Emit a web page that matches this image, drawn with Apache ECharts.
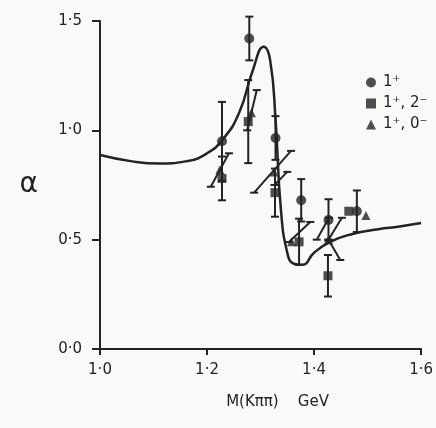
<!DOCTYPE html>
<html>
<head>
<meta charset="utf-8">
<script src="https://cdn.jsdelivr.net/npm/echarts@6/dist/echarts.min.js"></script>
<style>
  html, body { margin: 0; padding: 0; background: #f9f9f8; }
  #chart { width: 436px; height: 428px; }
</style>
</head>
<body>
<div id="chart"></div>
<script>
// theory curve
const curveMass = [1.0, 1.06, 1.11, 1.16, 1.2, 1.23, 1.26, 1.285, 1.306, 1.318, 1.328, 1.338, 1.35, 1.362, 1.378, 1.4, 1.43, 1.47, 1.52, 1.56, 1.6]
const curveAlpha = [0.887, 0.858, 0.848, 0.858, 0.895, 0.96, 1.08, 1.27, 1.382, 1.32, 1.05, 0.64, 0.44, 0.39, 0.385, 0.44, 0.49, 0.525, 0.548, 0.56, 0.576]

// 1+
const circleMass = [1.228, 1.279, 1.328, 1.376, 1.427, 1.48]
const circleAlpha = [0.95, 1.42, 0.965, 0.68, 0.59, 0.63]
const circleErr = [0.18, 0.1, 0.1, 0.097, 0.095, 0.095]

// 1+, 2-
const squareMass = [1.228, 1.277, 1.327, 1.372, 1.426, 1.465]
const squareAlpha = [0.78, 1.04, 0.715, 0.49, 0.335, 0.63]
const squareErr = [0.1, 0.19, 0.11, 0.106, 0.095, 0]

// 1+, 0-
const triangleMass = [1.224, 1.283, 1.325, 1.358, 1.427, 1.497]
const triangleAlpha = [0.82, 1.08, 0.81, 0.49, 0.5, 0.61]

// slanted error bars: low end -> high end
const slantLowMass = [1.207, 1.275, 1.288, 1.353, 1.405, 1.427, 1.449, 1.326]
const slantLowAlpha = [0.742, 1.0, 0.715, 0.489, 0.5, 0.5, 0.407, 0.75]
const slantHighMass = [1.241, 1.293, 1.357, 1.393, 1.428, 1.452, 1.427, 1.35]
const slantHighAlpha = [0.895, 1.184, 0.906, 0.581, 0.6, 0.6, 0.5, 0.81]

const xTicks = [1.0, 1.2, 1.4, 1.6]
const yTicks = [0.0, 0.5, 1.0, 1.5]

const ink = '#232323'
const font = 'DejaVu Sans'

function toPoints(xs, ys) {
  return xs.map((x, i) => [x, ys[i]])
}

function toErrors(xs, ys, errs) {
  return xs.map((x, i) => [x, ys[i] - errs[i], ys[i] + errs[i]])
}

function toSlants() {
  return slantLowMass.map((x, i) => [x, slantLowAlpha[i], slantHighMass[i], slantHighAlpha[i]])
}

function capLine(x, y, w) {
  return { type: 'line', shape: { x1: x - w, y1: y, x2: x + w, y2: y }, style: { stroke: ink, lineWidth: 2 } }
}

function renderVertical(params, api) {
  if (api.value(2) - api.value(1) <= 0) return null
  const lo = api.coord([api.value(0), api.value(1)])
  const hi = api.coord([api.value(0), api.value(2)])
  return {
    type: 'group',
    children: [
      { type: 'line', shape: { x1: lo[0], y1: lo[1], x2: hi[0], y2: hi[1] }, style: { stroke: ink, lineWidth: 2 } },
      capLine(lo[0], lo[1], 4),
      capLine(hi[0], hi[1], 4),
    ],
  }
}

function renderSlant(params, api) {
  const lo = api.coord([api.value(0), api.value(1)])
  const hi = api.coord([api.value(2), api.value(3)])
  return {
    type: 'group',
    children: [
      { type: 'line', shape: { x1: lo[0], y1: lo[1], x2: hi[0], y2: hi[1] }, style: { stroke: ink, lineWidth: 2 } },
      capLine(lo[0], lo[1], 4),
      capLine(hi[0], hi[1], 4),
    ],
  }
}

const fmt = (v) => v.toFixed(1).replace('.', '\u00b7')

const chart = echarts.init(document.getElementById('chart'))

chart.setOption({
  backgroundColor: '#f9f9f8',
  animation: false,
  grid: { left: 100, right: 13, top: 21, bottom: 79 },
  legend: {
    orient: 'vertical',
    left: 361,
    top: 70,
    itemWidth: 10,
    itemHeight: 10,
    itemGap: 6,
    data: ['1\u207a', '1\u207a, 2\u207b', '1\u207a, 0\u207b'],
    textStyle: { color: ink, fontSize: 15, fontFamily: font, padding: [0, 0, 0, 2] },
  },
  xAxis: {
    type: 'value',
    min: 1.0,
    max: 1.6,
    interval: 0.2,
    name: 'M(K\u03c0\u03c0)    GeV',
    nameLocation: 'middle',
    nameGap: 46,
    nameTextStyle: { color: ink, fontSize: 15, fontFamily: font, padding: [0, 0, 0, 34] },
    axisLine: { lineStyle: { color: ink, width: 2 } },
    axisTick: { length: 6, lineStyle: { color: ink, width: 2 } },
    axisLabel: {
      color: ink, fontSize: 15, fontFamily: font, margin: 14,
      formatter: (v) => (xTicks.some((t) => Math.abs(t - v) < 1e-6) ? fmt(v) : ''),
    },
    splitLine: { show: false },
  },
  yAxis: {
    type: 'value',
    min: 0,
    max: 1.5,
    interval: 0.5,
    name: '\u03b1',
    nameLocation: 'middle',
    nameRotate: 0,
    nameGap: 62,
    nameTextStyle: { color: ink, fontSize: 28, fontFamily: font, padding: [0, 0, 14, 0] },
    axisLine: { lineStyle: { color: ink, width: 2 } },
    axisTick: { length: 8, lineStyle: { color: ink, width: 2 } },
    axisLabel: {
      color: ink, fontSize: 15, fontFamily: font, margin: 18,
      formatter: (v) => (yTicks.some((t) => Math.abs(t - v) < 1e-6) ? fmt(v) : ''),
    },
    splitLine: { show: false },
  },
  series: [
    {
      type: 'line',
      data: toPoints(curveMass, curveAlpha),
      smooth: 0.5,
      showSymbol: false,
      lineStyle: { color: ink, width: 2.5 },
      z: 2,
    },
    {
      type: 'custom',
      renderItem: renderSlant,
      data: toSlants(),
      encode: { x: [0, 2], y: [1, 3] },
      z: 3,
    },
    {
      type: 'custom',
      renderItem: renderVertical,
      data: toErrors(circleMass, circleAlpha, circleErr),
      encode: { x: 0, y: [1, 2] },
      z: 3,
    },
    {
      type: 'custom',
      renderItem: renderVertical,
      data: toErrors(squareMass, squareAlpha, squareErr),
      encode: { x: 0, y: [1, 2] },
      z: 3,
    },
    {
      name: '1\u207a',
      type: 'scatter',
      symbol: 'circle',
      symbolSize: 10,
      data: toPoints(circleMass, circleAlpha),
      itemStyle: { color: ink },
      z: 4,
    },
    {
      name: '1\u207a, 2\u207b',
      type: 'scatter',
      symbol: 'rect',
      symbolSize: 9,
      data: toPoints(squareMass, squareAlpha),
      itemStyle: { color: ink },
      z: 4,
    },
    {
      name: '1\u207a, 0\u207b',
      type: 'scatter',
      symbol: 'triangle',
      symbolSize: 9,
      data: toPoints(triangleMass, triangleAlpha),
      itemStyle: { color: ink },
      z: 4,
    },
  ],
})
</script>
</body>
</html>
